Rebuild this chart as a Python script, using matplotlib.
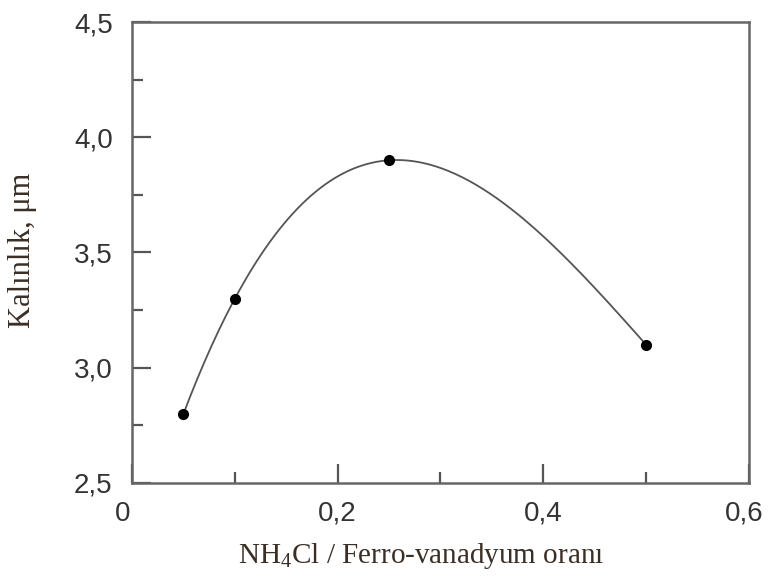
import numpy as np
import matplotlib.pyplot as plt
import matplotlib.transforms as mtransforms
from matplotlib.ticker import MultipleLocator, FuncFormatter

# data
ratio = [0.05, 0.10, 0.25, 0.50]
thickness = [2.80, 3.30, 3.90, 3.10]

x_ticks = [0, 0.2, 0.4, 0.6]
y_ticks = [2.5, 3.0, 3.5, 4.0, 4.5]

plt.rcParams["mathtext.fontset"] = "custom"
plt.rcParams["mathtext.rm"] = "Liberation Serif"

fig = plt.figure(figsize=(7.68, 5.79), dpi=100)
ax = fig.add_axes([0.172, 0.166, 0.803, 0.796])

# smooth curve through the measured points (cubic through 4 points)
coef = np.polyfit(ratio, thickness, 3)
xs = np.linspace(min(ratio), max(ratio), 200)
ax.plot(xs, np.polyval(coef, xs), color="#555555", lw=1.3)
ax.plot(ratio, thickness, "o", color="black", ms=7)

ax.set_xlim(0, 0.6)
ax.set_ylim(2.5, 4.5)
ax.set_xticks(x_ticks)
ax.set_yticks(y_ticks)
ax.xaxis.set_minor_locator(MultipleLocator(0.1))
ax.yaxis.set_minor_locator(MultipleLocator(0.25))

fmt_x = FuncFormatter(lambda v, p: "0" if v == 0 else f"{v:.1f}".replace(".", ","))
fmt_y = FuncFormatter(lambda v, p: f"{v:.1f}".replace(".", ","))
ax.xaxis.set_major_formatter(fmt_x)
ax.yaxis.set_major_formatter(fmt_y)

ax.tick_params(which="both", direction="in", colors="#555555", width=1.6,
               labelcolor="#333333", labelsize=20, labelfontfamily="Liberation Sans")
ax.tick_params(axis="x", pad=13)
ax.tick_params(axis="y", pad=14)
ax.tick_params(which="major", length=14)
ax.tick_params(which="minor", length=8)

# first and last x labels sit a little left of their ticks, as in the original
fig.canvas.draw()
labels = ax.get_xticklabels()
for lab, dx in [(labels[0], -7), (labels[-1], -3)]:
    lab.set_transform(lab.get_transform() +
                      mtransforms.ScaledTranslation(dx / 72, 0, fig.dpi_scale_trans))

for s in ax.spines.values():
    s.set_color("#666666")
    s.set_linewidth(1.8)

ax.set_xlabel("NH$_\\mathrm{4}$Cl / Ferro-vanadyum oranı", family="Liberation Serif",
              fontsize=21, color="#3a2f25")
ax.set_ylabel("Kalınlık, μm", family="Liberation Serif",
              fontsize=22, color="#3a2f25")
ax.xaxis.set_label_coords(0.469, -0.126)
ax.yaxis.set_label_coords(-0.154, 0.505)

fig.savefig("out.png", dpi=100)
